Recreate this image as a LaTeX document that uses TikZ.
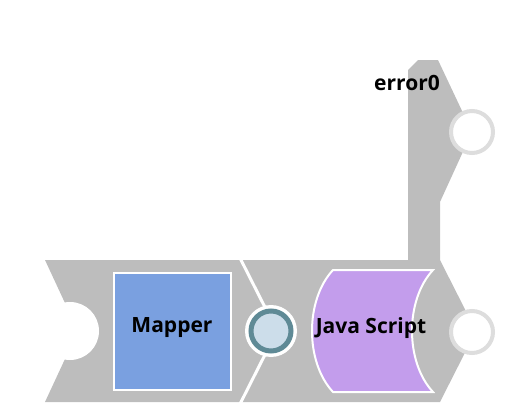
\documentclass[tikz,border=0pt]{standalone}
\usepackage{fontspec}
\setmainfont{Open Sans}
\usepackage{tikz}

\definecolor{snapgray}{HTML}{BDBDBD}
\definecolor{mapblue}{HTML}{7AA0E0}
\definecolor{jspurple}{HTML}{C39DEC}
\definecolor{portring}{HTML}{5F8A96}
\definecolor{portfill}{HTML}{CCDDEA}
\definecolor{openring}{HTML}{DDDDDD}

\begin{document}
\begin{tikzpicture}[x=1pt,y=-1pt,
    every node/.style={font=\bfseries\fontsize{21}{24}\selectfont},
    body/.style={fill=snapgray},
    openport/.style={circle,fill=white,draw=openring,line width=4pt,minimum size=42pt,inner sep=0pt},
    linkport/.style={circle,fill=portfill,draw=portring,line width=5pt,minimum size=40pt,inner sep=0pt}]

    \useasboundingbox (0,0) rectangle (515,415);

    % Snap bodies
    \fill[body] (45,260) -- (240,260) -- (277,331) -- (240,402) -- (45,402) -- (78,331) -- cycle;
    \fill[body] (240,260) -- (408,260) -- (408,70) -- (418,60) -- (438,60) -- (472,132)
      -- (440,202) -- (440,260) -- (476,331) -- (440,402) -- (240,402) -- (277,331) -- cycle;
    \draw[white,line width=3pt] (240,258) -- (277,331) -- (240,404);

    % Input cut-out and ports
    \node[circle,fill=white,minimum size=58pt,inner sep=0pt] (in) at (70,331) {};
    \node[circle,fill=white,minimum size=52pt,inner sep=0pt] (halo) at (271,331) {};
    \node[linkport] (link) at (271,331) {};
    \node[openport] (out) at (472,332) {};
    \node[openport] (err) at (472,132) {};

    % Snaps
    \node[rectangle,fill=mapblue,draw=white,line width=2pt,minimum size=117pt] (mapper) at (172,331) {};
    \node (maplabel) at (172,328) {Mapper};
    \filldraw[fill=jspurple,draw=white,line width=2pt] (333,270) -- (433,270)
      .. controls (405,300) and (405,362) .. (433,392) -- (333,392)
      .. controls (305,362) and (305,300) .. (333,270) -- cycle;
    \node (js) at (371,328) {Java Script};

    \node (errlabel) at (407,83) {error0};

  \end{tikzpicture}
\end{document}
